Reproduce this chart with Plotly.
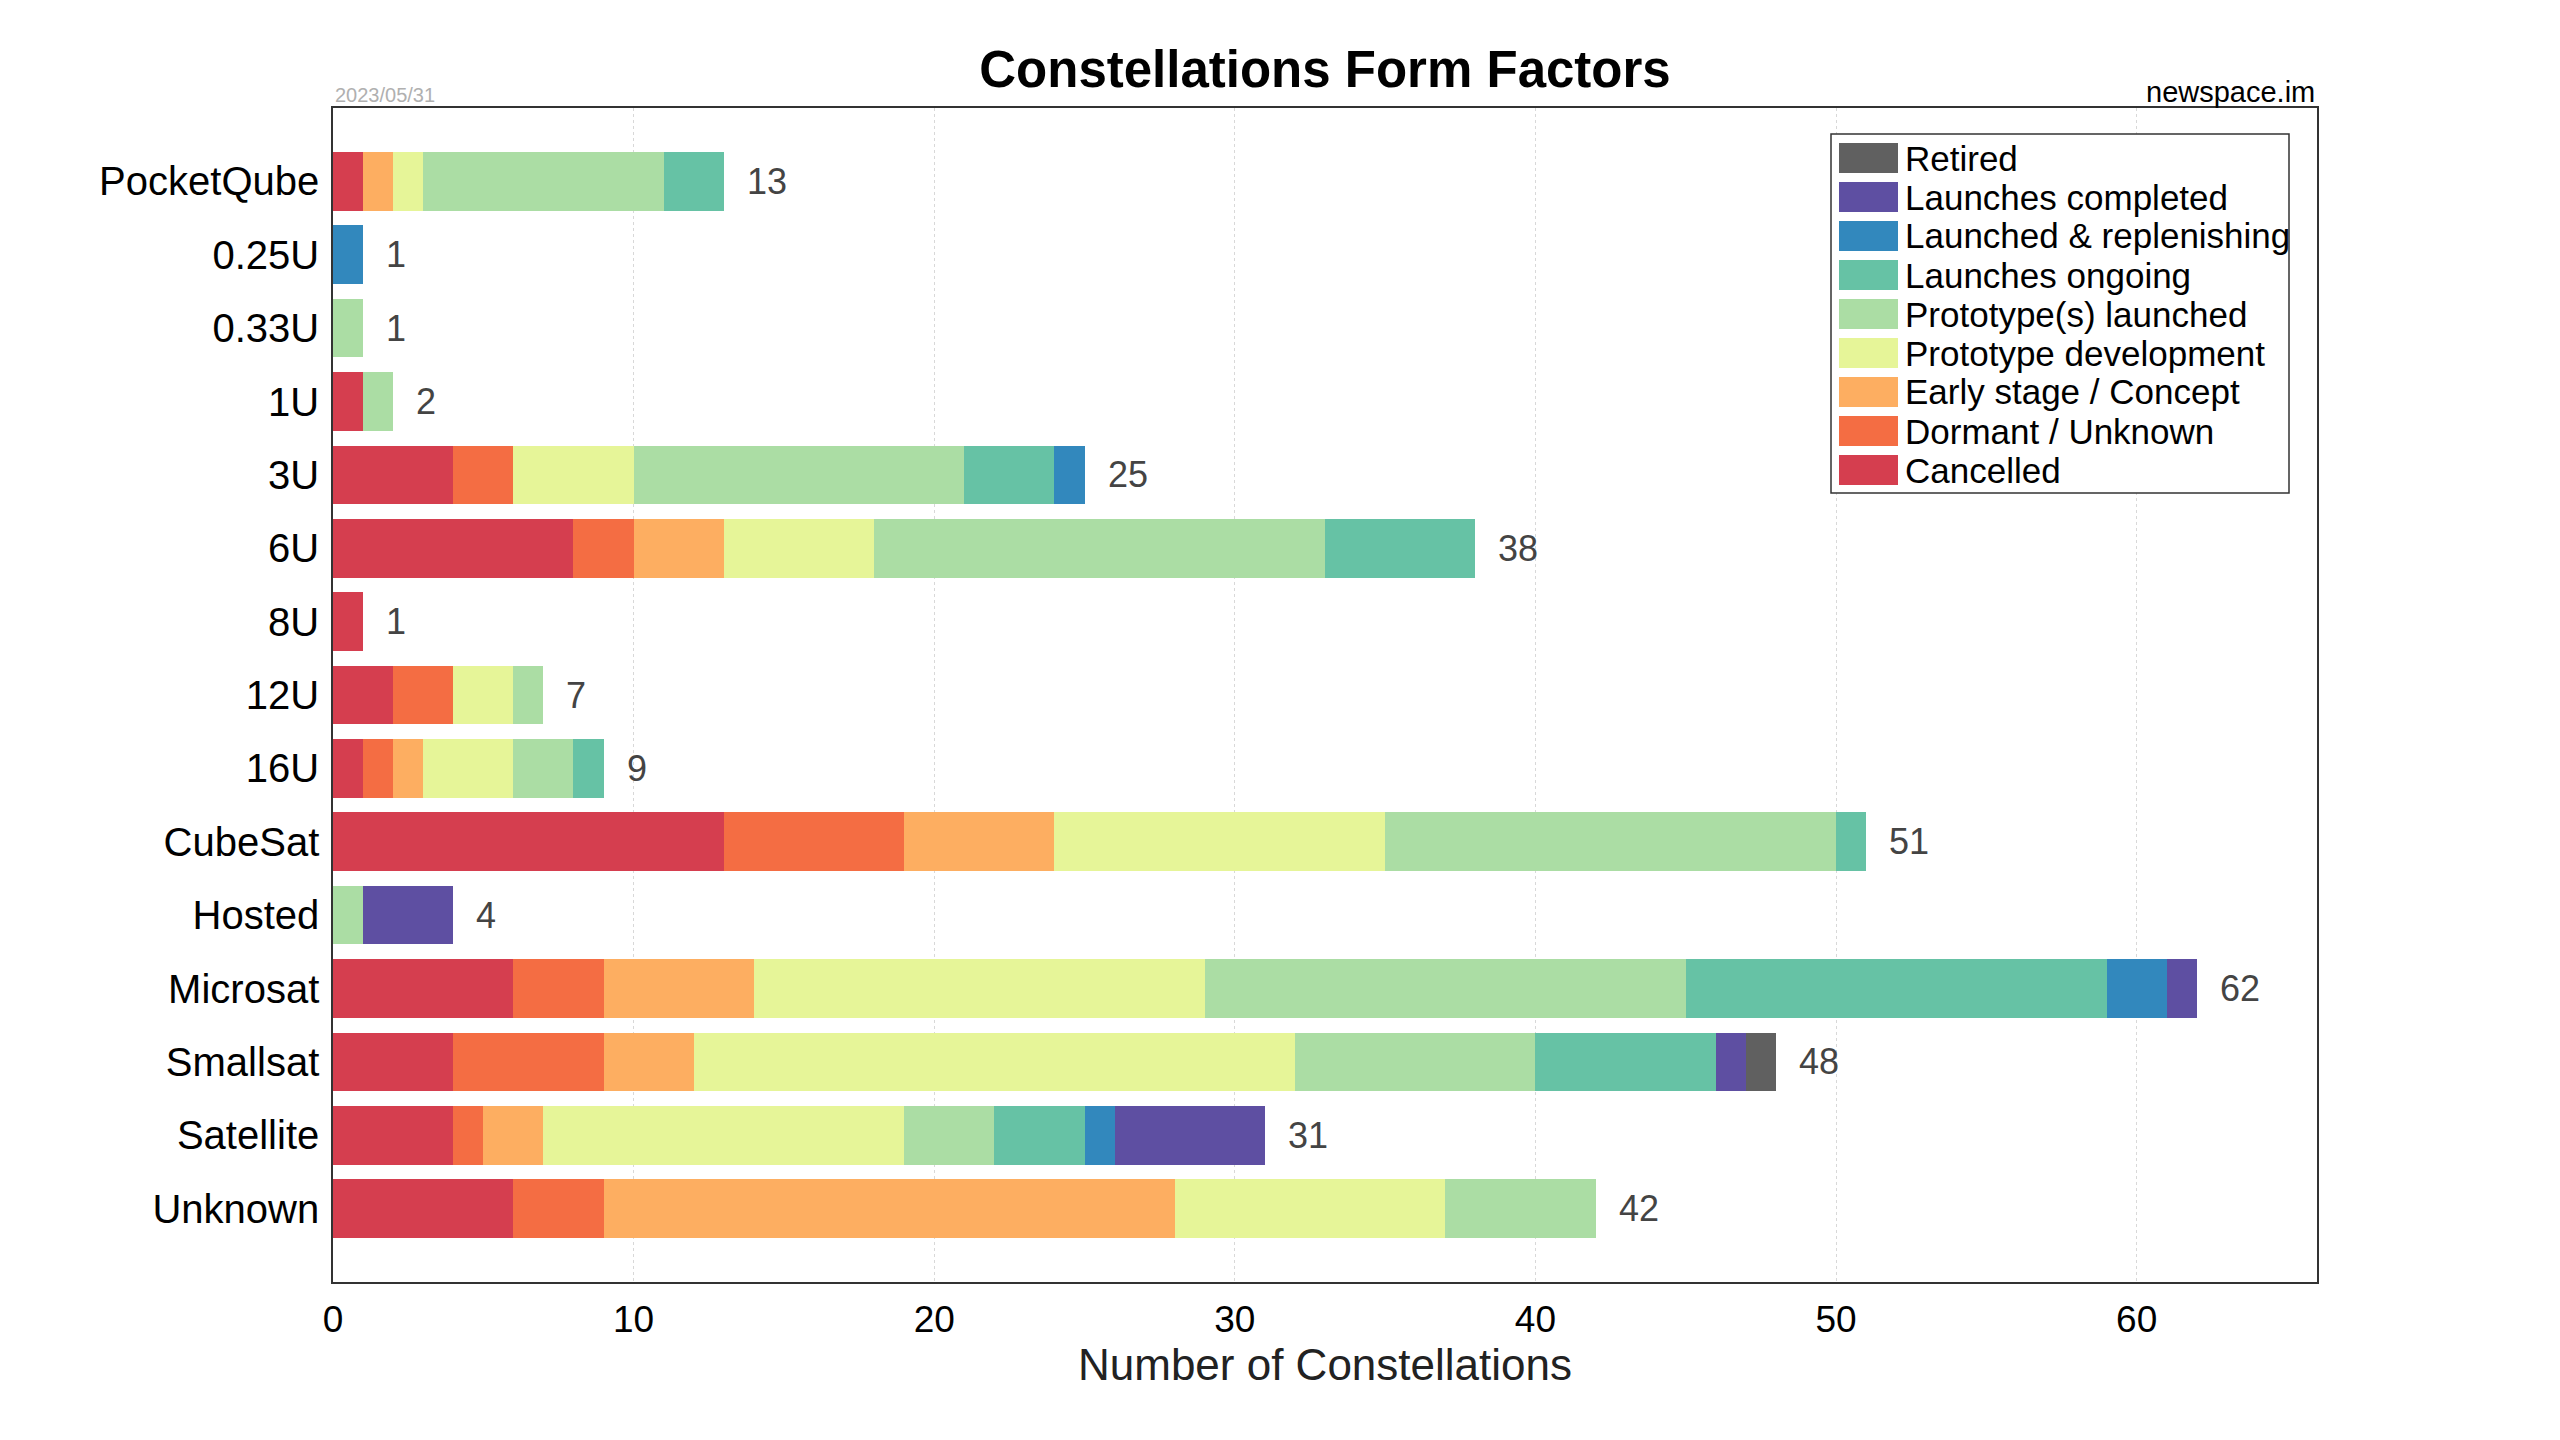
import plotly.graph_objects as go

categories = ["PocketQube", "0.25U", "0.33U", "1U", "3U", "6U", "8U", "12U", "16U",
              "CubeSat", "Hosted", "Microsat", "Smallsat", "Satellite", "Unknown"]

cancelled             = [1, 0, 0, 1, 4, 8, 1, 2, 1, 13, 0, 6, 4, 4, 6]
dormant_unknown       = [0, 0, 0, 0, 2, 2, 0, 2, 1, 6, 0, 3, 5, 1, 3]
early_stage           = [1, 0, 0, 0, 0, 3, 0, 0, 1, 5, 0, 5, 3, 2, 19]
prototype_development = [1, 0, 0, 0, 4, 5, 0, 2, 3, 11, 0, 15, 20, 12, 9]
prototypes_launched   = [8, 0, 1, 1, 11, 15, 0, 1, 2, 15, 1, 16, 8, 3, 5]
launches_ongoing      = [2, 0, 0, 0, 3, 5, 0, 0, 1, 1, 0, 14, 6, 3, 0]
launched_replenishing = [0, 1, 0, 0, 1, 0, 0, 0, 0, 0, 0, 2, 0, 1, 0]
launches_completed    = [0, 0, 0, 0, 0, 0, 0, 0, 0, 0, 3, 1, 1, 5, 0]
retired               = [0, 0, 0, 0, 0, 0, 0, 0, 0, 0, 0, 0, 1, 0, 0]

series_names = ["Cancelled", "Dormant / Unknown", "Early stage / Concept",
                "Prototype development", "Prototype(s) launched", "Launches ongoing",
                "Launched & replenishing", "Launches completed", "Retired"]
series_values = [cancelled, dormant_unknown, early_stage, prototype_development,
                 prototypes_launched, launches_ongoing, launched_replenishing,
                 launches_completed, retired]
series_colors = ["#d53e4f", "#f46d43", "#fdae61", "#e6f598", "#abdda4",
                 "#66c2a5", "#3288bd", "#5e4fa2", "#606060"]

x_ticks = [0, 10, 20, 30, 40, 50, 60]

FONT = "Liberation Sans, Arial, Helvetica, sans-serif"
W, H = 2560, 1440
OFF = 8  # page body margin offset
# plot area in page pixels: x 333..2317, y 108..1282
ML, MT = 333 - OFF, 108 - OFF
PW, PH = 2317 - 333, 1282 - 108
MR, MB = W - ML - PW, H - MT - PH


def px(xp):
    return (xp - OFF - ML) / PW


def py(yp):
    return (MT + PH - (yp - OFF)) / PH


fig = go.Figure()
for name, vals, col in zip(series_names, series_values, series_colors):
    fig.add_trace(go.Bar(
        y=categories, x=vals, name=name, orientation="h",
        marker=dict(color=col, line=dict(width=0)),
        showlegend=False, hoverinfo="x+name",
    ))

totals = [sum(v[i] for v in series_values) for i in range(len(categories))]
for cat, tot in zip(categories, totals):
    fig.add_annotation(x=tot, y=cat, xref="x", yref="y", text=str(tot),
                       showarrow=False, xanchor="left", xshift=21,
                       font=dict(family=FONT, size=36, color="#444444"))

# legend (top item = last series)
shapes = []
lx0, lx1, ly0, ly1 = 1831, 2289, 134, 493
shapes.append(dict(type="rect", xref="paper", yref="paper",
                   x0=px(lx0), x1=px(lx1), y0=py(ly1), y1=py(ly0),
                   line=dict(color="#333333", width=1.5), fillcolor="white", layer="above"))
for k, (name, col) in enumerate(zip(series_names[::-1], series_colors[::-1])):
    top = 143 + 39 * k
    shapes.append(dict(type="rect", xref="paper", yref="paper",
                       x0=px(1839), x1=px(1898), y0=py(top + 30), y1=py(top),
                       line=dict(width=0), fillcolor=col, layer="above"))
    fig.add_annotation(x=px(1903), y=py(top + 15), xref="paper", yref="paper",
                       text=name, showarrow=False, xanchor="left", yanchor="middle",
                       font=dict(family=FONT, size=35, color="black"))

fig.add_annotation(x=0, y=1.0, xref="paper", yref="paper", text="2023/05/31",
                   showarrow=False, xanchor="left", yanchor="bottom", yshift=0,
                   font=dict(family=FONT, size=20, color="#b0b0b0"))
fig.add_annotation(x=1, y=1.0, xref="paper", yref="paper", text="newspace.im",
                   showarrow=False, xanchor="right", yanchor="bottom", yshift=-2,
                   font=dict(family=FONT, size=29, color="black"))

fig.update_layout(
    width=W, height=H,
    margin=dict(l=ML, r=MR, t=MT, b=MB, autoexpand=False),
    barmode="stack", bargap=0.2,
    paper_bgcolor="white", plot_bgcolor="white",
    title=dict(text="<b>Constellations Form Factors</b>", xref="container",
               x=(1325 - OFF) / W, xanchor="center",
               yref="container", y=1 - (69 - OFF) / H, yanchor="middle",
               font=dict(family=FONT, size=51, color="black")),
    shapes=shapes,
    xaxis=dict(range=[0, 66], tickvals=x_ticks, ticktext=[str(t) for t in x_ticks],
               showgrid=True, gridcolor="#d8d8d8", griddash="dot", gridwidth=1,
               zeroline=False, showline=True, mirror=True, linecolor="#333333", linewidth=1.5,
               ticks="", ticklabelstandoff=4,
               tickfont=dict(family=FONT, size=37, color="black"),
               title=dict(text="Number of Constellations", standoff=4,
                          font=dict(family=FONT, size=44, color="#222222"))),
    yaxis=dict(categoryorder="array", categoryarray=categories, range=[15, -1],
               showgrid=False, zeroline=False, showline=True, mirror=True,
               linecolor="#333333", linewidth=1.5, ticks="", ticklabelstandoff=4,
               tickfont=dict(family=FONT, size=40, color="black")),
)

fig.write_html("out.html", config={"displayModeBar": False})
